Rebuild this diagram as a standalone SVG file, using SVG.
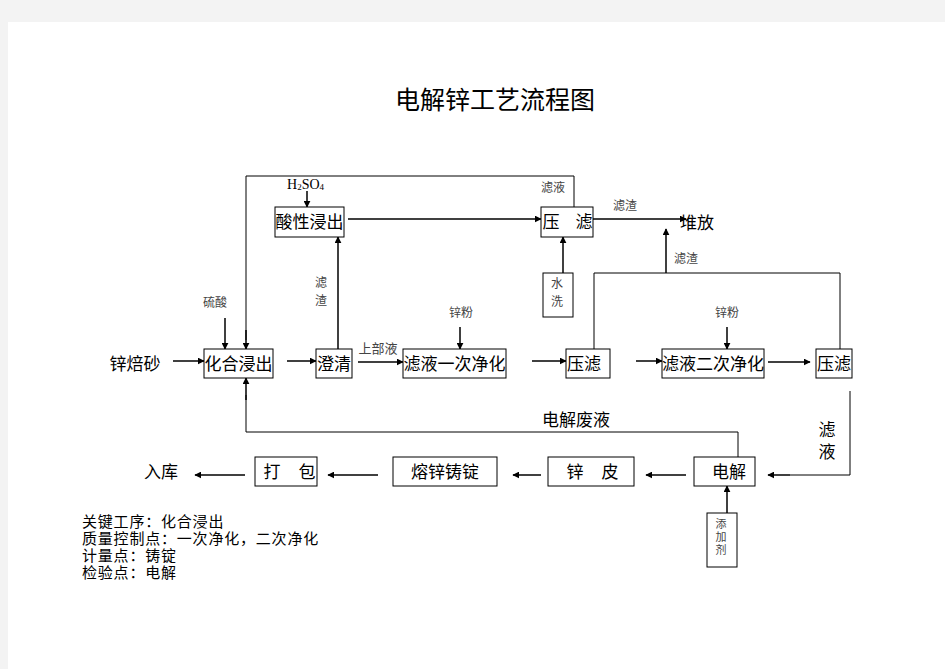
<svg xmlns="http://www.w3.org/2000/svg" width="945" height="669" viewBox="0 0 945 669">
<defs>
<marker id="ah" viewBox="0 0 10 10" refX="9" refY="5" markerWidth="7" markerHeight="7" markerUnits="userSpaceOnUse" orient="auto">
<path d="M0,0 L10,5 L0,10 z" fill="#000"/>
</marker>
<style>
.bx{fill:#fff;stroke:#000;stroke-width:1}
.t{font-family:"Noto Sans CJK SC","Liberation Sans",sans-serif;font-size:17px;fill:#000;text-anchor:middle}
.s{font-family:"Noto Sans CJK SC","Liberation Sans",sans-serif;font-size:12px;fill:#444;text-anchor:middle}
.v{font-family:"Liberation Sans","Noto Sans CJK SC",sans-serif;text-anchor:middle}
.l{font-family:"Liberation Sans","Noto Sans CJK SC",sans-serif;font-size:15px;letter-spacing:0.8px;fill:#000}
.ln{fill:none;stroke:#000;stroke-width:1}
.ar{fill:none;stroke:#000;stroke-width:1.5;marker-end:url(#ah)}
</style>
</defs>
<rect x="0" y="0" width="945" height="669" fill="#f3f3f3"/>
<rect x="8" y="22" width="937" height="647" fill="#fff"/>
<text x="495" y="109" font-family="'Noto Sans CJK SC','Liberation Sans',sans-serif" font-size="25" text-anchor="middle">电解锌工艺流程图</text>

<g id="connectors">
<polyline class="ln" points="574,207 574,176 246,176 246,340"/>
<line class="ar" x1="246" y1="330" x2="246" y2="349"/>
<line class="ar" x1="307" y1="191" x2="307" y2="207"/>
<line class="ar" x1="348" y1="219" x2="541" y2="219"/>
<line class="ar" x1="593" y1="219" x2="686" y2="219"/>
<line class="ar" x1="563" y1="273" x2="563" y2="237"/>
<polyline class="ln" points="594,349 594,273 840,273 840,349"/>
<line class="ar" x1="666" y1="273" x2="666" y2="229"/>
<line class="ar" x1="225" y1="318" x2="225" y2="349"/>
<line class="ar" x1="173" y1="361" x2="204" y2="361"/>
<line class="ar" x1="287" y1="361" x2="316" y2="361"/>
<line class="ar" x1="338" y1="349" x2="338" y2="237"/>
<line class="ar" x1="358" y1="362" x2="403" y2="362"/>
<line class="ar" x1="460" y1="327" x2="460" y2="349"/>
<line class="ar" x1="532" y1="361" x2="566" y2="361"/>
<line class="ar" x1="636" y1="361" x2="662" y2="361"/>
<line class="ar" x1="727" y1="327" x2="727" y2="349"/>
<line class="ar" x1="768" y1="362" x2="810" y2="362"/>
<polyline class="ln" points="850,391 850,475 790,475"/>
<line class="ar" x1="790" y1="475" x2="768" y2="475"/>
<polyline class="ln" points="738,457 738,432 246,432 246,395"/>
<line class="ar" x1="246" y1="400" x2="246" y2="378"/>
<line class="ar" x1="686" y1="475" x2="646" y2="475"/>
<line class="ar" x1="541" y1="475" x2="513" y2="475"/>
<line class="ar" x1="378" y1="475" x2="328" y2="475"/>
<line class="ar" x1="245" y1="475" x2="195" y2="475"/>
<line class="ar" x1="727" y1="513" x2="727" y2="486"/>
</g>

<g id="n-acid"><rect class="bx" x="275" y="207" width="69" height="30"/><text class="t" x="309.5" y="228">酸性浸出</text></g>
<g id="n-press-top"><rect class="bx" x="541" y="207" width="52" height="30"/><text class="t" y="228"><tspan x="551">压</tspan><tspan x="584">滤</tspan></text></g>
<g id="n-wash"><rect class="bx" x="543" y="273" width="30" height="44"/><text class="s" x="557" y="288">水<tspan x="557" dy="18">洗</tspan></text></g>
<g id="n-leach"><rect class="bx" x="204" y="349" width="69" height="29"/><text class="t" x="238.5" y="370">化合浸出</text></g>
<g id="n-clarify"><rect class="bx" x="316" y="349" width="36" height="29"/><text class="t" x="334" y="370">澄清</text></g>
<g id="n-purify1"><rect class="bx" x="403" y="349" width="103" height="29"/><text class="t" x="454.5" y="370">滤液一次净化</text></g>
<g id="n-press1"><rect class="bx" x="566" y="349" width="44" height="29"/><text class="t" x="584" y="370">压滤</text></g>
<g id="n-purify2"><rect class="bx" x="662" y="349" width="102" height="29"/><text class="t" x="713" y="370">滤液二次净化</text></g>
<g id="n-press2"><rect class="bx" x="816" y="349" width="36" height="29"/><text class="t" x="834" y="370">压滤</text></g>
<g id="n-electro"><rect class="bx" x="694" y="457" width="61" height="29"/><text class="t" x="729" y="478">电解</text></g>
<g id="n-zincsheet"><rect class="bx" x="548" y="457" width="86" height="29"/><text class="t" y="478"><tspan x="575">锌</tspan><tspan x="610">皮</tspan></text></g>
<g id="n-cast"><rect class="bx" x="393" y="457" width="104" height="29"/><text class="t" x="445" y="478">熔锌铸锭</text></g>
<g id="n-pack"><rect class="bx" x="255" y="457" width="62" height="29"/><text class="t" y="478"><tspan x="272">打</tspan><tspan x="307">包</tspan></text></g>
<g id="n-additive"><rect class="bx" x="707" y="513" width="30" height="54"/><text class="v" x="721" y="528" font-size="11" fill="#444">添<tspan x="721" dy="13">加</tspan><tspan x="721" dy="13">剂</tspan></text></g>

<g id="labels">
<text x="287" y="189" font-family="'Liberation Serif',serif" font-size="14" fill="#000">H<tspan font-size="9" dy="1">2</tspan><tspan dy="-1">SO</tspan><tspan font-size="9" dy="1">4</tspan></text>
<text class="t" x="697" y="229">堆放</text>
<text class="s" x="553" y="192">滤液</text>
<text class="s" x="625" y="210">滤渣</text>
<text class="s" x="686" y="263">滤渣</text>
<text class="s" x="215" y="307">硫酸</text>
<text class="s" x="321" y="287">滤<tspan x="321" dy="18">渣</tspan></text>
<text class="s" x="461" y="317">锌粉</text>
<text class="s" x="727" y="317">锌粉</text>
<text x="378" y="353" font-family="'Noto Sans CJK SC',sans-serif" font-size="13" fill="#444" text-anchor="middle">上部液</text>
<text class="t" x="135" y="370">锌焙砂</text>
<text class="t" x="576" y="426">电解废液</text>
<text class="v" x="827" y="436" font-size="17" fill="#000">滤<tspan x="827" dy="22">液</tspan></text>
<text class="t" x="161" y="478">入库</text>
<text class="l" x="82" y="527">关键工序：化合浸出<tspan x="82" dy="17">质量控制点：一次净化，二次净化</tspan><tspan x="82" dy="17">计量点：铸锭</tspan><tspan x="82" dy="17">检验点：电解</tspan></text>
</g>
</svg>
